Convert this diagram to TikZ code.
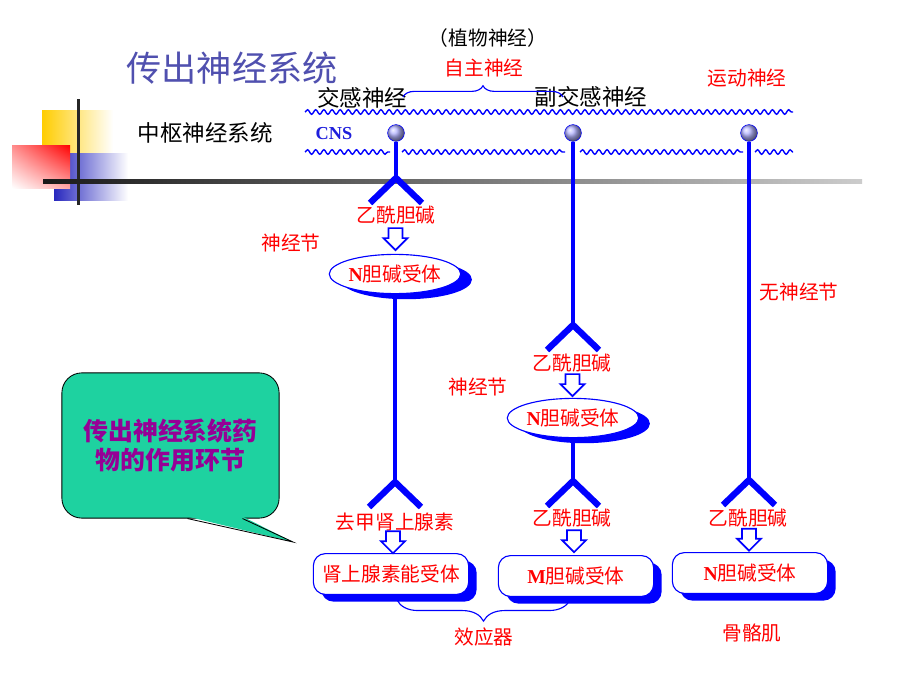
\documentclass[tikz,border=0pt]{standalone}
\usepackage{fontspec}
\setmainfont{Noto Sans CJK SC}
\newfontfamily\lat{Liberation Serif}
\usetikzlibrary{calc,shapes.geometric,shadows,shadings,decorations.pathmorphing,decorations.pathreplacing}
\definecolor{titleblue}{RGB}{80,80,175}
\definecolor{cnsblue}{RGB}{30,30,220}
\definecolor{notegreen}{RGB}{30,210,160}
\definecolor{notepurple}{RGB}{150,0,150}
\definecolor{gold}{RGB}{255,205,0}
\definecolor{sqblue}{RGB}{40,40,190}
\begin{document}
\begin{tikzpicture}[x=0.025cm,y=-0.025cm,
    lbl/.style={text=red,font=\fontsize{14}{16}\selectfont,inner sep=0pt},
    hd/.style={font=\fontsize{16}{18}\selectfont,inner sep=0pt},
    axon/.style={blue,line width=3.5pt},
    ball/.style={circle,draw=blue,ball color=blue!30,minimum size=0.42cm,inner sep=0pt},
    recv/.style={ellipse,draw=blue,thick,fill=white,minimum width=2.75cm,minimum height=0.98cm,inner sep=0pt,
        text=red,font=\fontsize{14}{16}\selectfont,drop shadow={fill=blue,opacity=1,shadow xshift=0.28cm,shadow yshift=-0.14cm}},
    effbox/.style={rectangle,rounded corners=0.3cm,draw=blue,thick,fill=white,minimum width=3.88cm,minimum height=1.02cm,inner sep=0pt,
        text=red,font=\fontsize{14}{16}\selectfont,drop shadow={fill=blue,opacity=1,shadow xshift=0.2cm,shadow yshift=-0.18cm}},
    wave/.style={blue,line width=1pt,decorate,decoration={snake,amplitude=1.6pt,segment length=5.8pt}},
    fork/.pic={\draw[blue,line width=4.5pt] (-26,25) -- (0,0) -- (26,25);},
    hollow/.pic={\filldraw[blue,fill=white,line width=1.2pt] (-7,-11) -- (7,-11) -- (7,-1) -- (12,-1) -- (0,11) -- (-12,-1) -- (-7,-1) -- cycle;}]
    \useasboundingbox (0,0) rectangle (920,690);
    \fill[white] (0,0) rectangle (920,690);

    \shade[left color=gold,middle color=gold,right color=white] (42,110) rectangle (113,180);
    \shade[left color=sqblue,middle color=sqblue,right color=white] (54,153) rectangle (128,200);
    \shade[upper right=red,upper left=red!45,lower right=red!35,lower left=white] (12,145) rectangle (70,188);
    \fill[black!85] (76.5,99) rectangle (79.5,205);
    \shade[left color=black!90,right color=black!20] (43,179.5) rectangle (862,183);

    \node[text=titleblue,font=\fontsize{25}{28}\selectfont,inner sep=0pt] (title) at (232,68) {传出神经系统};
    \node[font=\fontsize{14}{16}\selectfont,inner sep=0pt] (veg) at (488,38) {（植物神经）};
    \node[lbl] (auto) at (484,68) {自主神经};
    \node[hd] (symp) at (362,98) {交感神经};
    \node[hd] (para) at (591,97) {副交感神经};
    \node[lbl] (motor) at (747,78) {运动神经};
    \node[hd] (cnsys) at (205,133) {中枢神经系统};
    \node[text=cnsblue,font=\fontsize{13}{15}\selectfont\lat\bfseries,inner sep=0pt] (cns) at (334,134) {CNS};
    \coordinate (brA) at (403,97);
    \coordinate (brB) at (563,97);
    \draw[blue,line width=0.8pt,decorate,decoration={brace,amplitude=8pt}] (brA) -- (brB);

    \draw[wave] (305,112) -- (793,112);
    \draw[wave] (305,152) -- (390,152);
    \draw[wave] (402,152) -- (565,152);
    \draw[wave] (580,152) -- (743,152);
    \draw[wave] (755,152) -- (793,152);

    \node[ball] (b1) at (396,133) {};
    \node[ball] (b2) at (573,133) {};
    \node[ball] (b3) at (749,133) {};
    \coordinate (f1) at (396,178);
    \coordinate (f2) at (395,482);
    \coordinate (f3) at (573,325);
    \coordinate (f4) at (573,481);
    \coordinate (f5) at (749,480);

    \node[lbl] (ach1) at (396,215) {乙酰胆碱};
    \node[lbl] (gang1) at (291,243) {神经节};
    \node[recv] (nr1) at (395,274) {{\lat\bfseries N}胆碱受体};
    \node[lbl] (ne) at (395,522) {去甲肾上腺素};
    \node[effbox] (ar) at (391,574) {肾上腺素能受体};

    \node[lbl] (ach2) at (572,363) {乙酰胆碱};
    \node[lbl] (gang2) at (478,387) {神经节};
    \node[recv] (nr2) at (573,418) {{\lat\bfseries N}胆碱受体};
    \node[lbl] (ach3) at (572,518) {乙酰胆碱};
    \node[effbox] (mr) at (576,576) {{\lat\bfseries M}胆碱受体};

    \node[lbl] (nogang) at (799,292) {无神经节};
    \node[lbl] (ach4) at (748,518) {乙酰胆碱};
    \node[effbox] (nr3) at (750,573) {{\lat\bfseries N}胆碱受体};

    \draw[axon] (b1) -- (f1);
    \draw[axon] (nr1) -- (f2);
    \draw[axon] (b2) -- (f3);
    \draw[axon] (nr2) -- (f4);
    \draw[axon] (b3) -- (f5);
    \foreach \f in {f1,f2,f3,f4,f5}
        \pic at (\f) {fork};

    \pic at ($(ach1.south)!0.5!(nr1.north)$) {hollow};
    \pic at ($(ne.south)!0.5!(ar.north)$) {hollow};
    \pic at ($(ach2.south)!0.5!(nr2.north)$) {hollow};
    \pic at ($(ach3.south)!0.5!(mr.north)$) {hollow};
    \pic at ($(ach4.south)!0.5!(nr3.north)$) {hollow};

    \draw[blue,line width=0.8pt,decorate,decoration={brace,amplitude=15pt}] (570,600) -- (397,600);
    \node[lbl] (eff) at (484,637) {效应器};
    \node[lbl] (skel) at (752,633) {骨骼肌};

    \node[rectangle,rounded corners=0.5cm,draw=black,line width=0.6pt,fill=notegreen,minimum width=5.43cm,minimum height=3.63cm,
        text=notepurple,font=\fontsize{17.7}{20}\selectfont\bfseries,align=center] (note) at (170.5,445.5) {传出神经系统药\\物的作用环节};
    \coordinate (tip) at (293,542);
    \fill[notegreen] ($(note.south)+(17,-2)$) -- (tip) -- ($(note.south)+(72,-2)$) -- cycle;
    \draw[line width=0.6pt] ($(note.south)+(17,0)$) -- (tip) -- ($(note.south)+(72,0)$);
\end{tikzpicture}
\end{document}
